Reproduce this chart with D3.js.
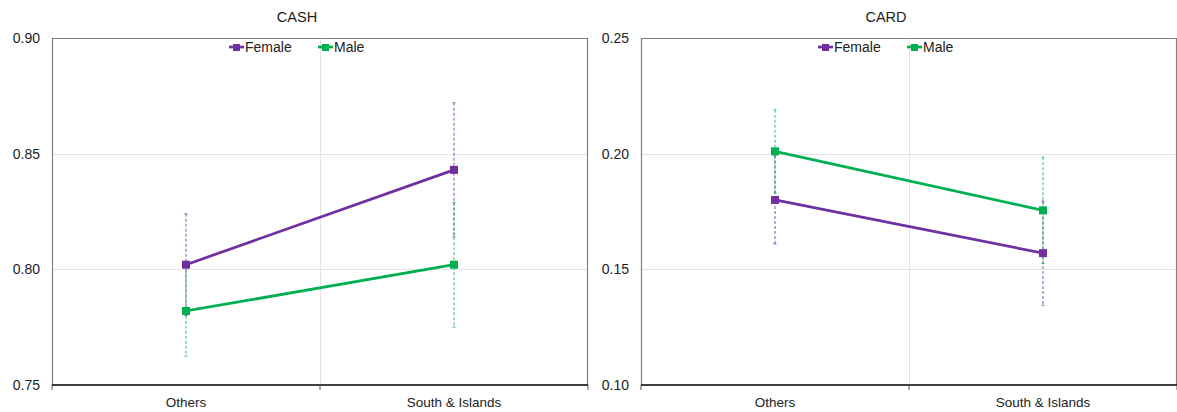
<!DOCTYPE html>
<html>
<head>
<meta charset="utf-8">
<script src="https://cdn.jsdelivr.net/npm/d3@7"></script>
<style>
  html, body { margin: 0; padding: 0; background: #fff; }
  svg { display: block; font-family: "Liberation Sans", Arial, sans-serif; }
</style>
</head>
<body>
<svg id="chart" width="1177" height="412"></svg>
<script>
// Regions on the x axis
const categories = ["Others", "South & Islands"];
const seriesNames = ["Female", "Male"];
const seriesColors = ["#7030A0", "#00B050"];

// CASH panel: means and error half-widths
const cashFemale = [0.802, 0.843];
const cashMale = [0.782, 0.802];
const cashFemaleErr = [0.022, 0.029];
const cashMaleErr = [0.0195, 0.027];
const cashTicks = [0.75, 0.80, 0.85, 0.90];

// CARD panel: means and error half-widths
const cardFemale = [0.180, 0.157];
const cardMale = [0.201, 0.1755];
const cardFemaleErr = [0.019, 0.0225];
const cardMaleErr = [0.018, 0.023];
const cardTicks = [0.10, 0.15, 0.20, 0.25];

const panels = [
  { title: "CASH", x0: 52, x1: 588, ticks: cashTicks,
    series: [[cashFemale, cashFemaleErr], [cashMale, cashMaleErr]] },
  { title: "CARD", x0: 641, x1: 1177, ticks: cardTicks,
    series: [[cardFemale, cardFemaleErr], [cardMale, cardMaleErr]] }
];

const plotTop = 38, plotBottom = 385;
const svg = d3.select("#chart");

panels.forEach(p => {
  const g = svg.append("g");
  const x = d3.scaleBand().domain(categories).range([p.x0, p.x1]);
  const y = d3.scaleLinear().domain([p.ticks[0], p.ticks[p.ticks.length - 1]]).range([plotBottom, plotTop]);

  // horizontal gridlines
  g.selectAll(".hgrid").data(p.ticks.slice(1, -1)).join("line")
    .attr("x1", p.x0).attr("x2", p.x1)
    .attr("y1", d => Math.round(y(d)) + 0.5).attr("y2", d => Math.round(y(d)) + 0.5)
    .attr("stroke", "#e3e3e3").attr("stroke-width", 1);

  // vertical gridline between categories
  g.append("line")
    .attr("x1", x(categories[1]) + 0.5).attr("x2", x(categories[1]) + 0.5)
    .attr("y1", plotTop).attr("y2", plotBottom)
    .attr("stroke", "#e3e3e3").attr("stroke-width", 1);

  // plot frame: top, left, right
  g.append("path")
    .attr("d", `M${p.x0 + 0.5},${plotBottom} V${plotTop + 0.5} H${p.x1 - 0.5} V${plotBottom}`)
    .attr("fill", "none").attr("stroke", "#7f7f7f").attr("stroke-width", 1.2);

  // y axis labels
  const yAxis = d3.axisLeft(y).tickValues(p.ticks).tickFormat(d3.format(".2f")).tickSize(0).tickPadding(12);
  const ya = g.append("g").attr("transform", `translate(${p.x0},0)`).call(yAxis);
  ya.select(".domain").remove();
  ya.selectAll("text").attr("font-size", 14).attr("fill", "#222").attr("font-family", "Liberation Sans, Arial, sans-serif");

  // x axis
  g.append("line").attr("x1", p.x0).attr("x2", p.x1).attr("y1", plotBottom).attr("y2", plotBottom)
    .attr("stroke", "#000").attr("stroke-width", 1.5);
  const bounds = [p.x0, x(categories[1]), p.x1];
  g.selectAll(".xtick").data(bounds).join("line")
    .attr("x1", d => d).attr("x2", d => d).attr("y1", plotBottom).attr("y2", plotBottom + 5)
    .attr("stroke", "#555").attr("stroke-width", 1);
  g.selectAll(".xlab").data(categories).join("text")
    .attr("x", d => x(d) + x.bandwidth() / 2).attr("y", plotBottom + 22)
    .attr("text-anchor", "middle").attr("font-size", 13.5).attr("fill", "#222").text(d => d);

  // title
  g.append("text").attr("x", (p.x0 + p.x1) / 2 - 23).attr("y", 22)
    .attr("text-anchor", "middle").attr("font-size", 14.5).attr("fill", "#222").text(p.title);

  const cx = d => x(d) + x.bandwidth() / 2;

  // error bars
  p.series.forEach(([vals, errs], si) => {
    const col = seriesColors[si];
    const eb = g.append("g");
    categories.forEach((c, i) => {
      const yHi = y(vals[i] + errs[i]), yLo = y(vals[i] - errs[i]);
      eb.append("line").attr("x1", cx(c)).attr("x2", cx(c)).attr("y1", yHi).attr("y2", yLo)
        .attr("stroke", col).attr("stroke-width", 1.1).attr("stroke-dasharray", "3,2").attr("opacity", 0.75);
      [yHi, yLo].forEach(yy => eb.append("line")
        .attr("x1", cx(c) - 1.5).attr("x2", cx(c) + 1.5).attr("y1", yy).attr("y2", yy)
        .attr("stroke", col).attr("stroke-width", 1).attr("opacity", 0.75));
    });
  });

  // lines and markers
  p.series.forEach(([vals], si) => {
    const col = seriesColors[si];
    const line = d3.line().x((d, i) => cx(categories[i])).y(d => y(d));
    g.append("path").datum(vals).attr("d", line)
      .attr("fill", "none").attr("stroke", col).attr("stroke-width", 2.75);
    g.selectAll(null).data(vals).join("rect")
      .attr("x", (d, i) => cx(categories[i]) - 4).attr("y", d => y(d) - 4)
      .attr("width", 8).attr("height", 8).attr("fill", col);
  });

  // legend
  const lg = g.append("g");
  const legX = [p.x0 + 177, p.x0 + 266];
  seriesNames.forEach((n, si) => {
    const lx = legX[si];
    lg.append("line").attr("x1", lx).attr("x2", lx + 15).attr("y1", 47).attr("y2", 47)
      .attr("stroke", seriesColors[si]).attr("stroke-width", 2.75);
    lg.append("rect").attr("x", lx + 4).attr("y", 44).attr("width", 7).attr("height", 7).attr("fill", seriesColors[si]);
    lg.append("text").attr("x", lx + 16).attr("y", 52).attr("font-size", 14).attr("fill", "#222").text(n);
  });
});
</script>
</body>
</html>
